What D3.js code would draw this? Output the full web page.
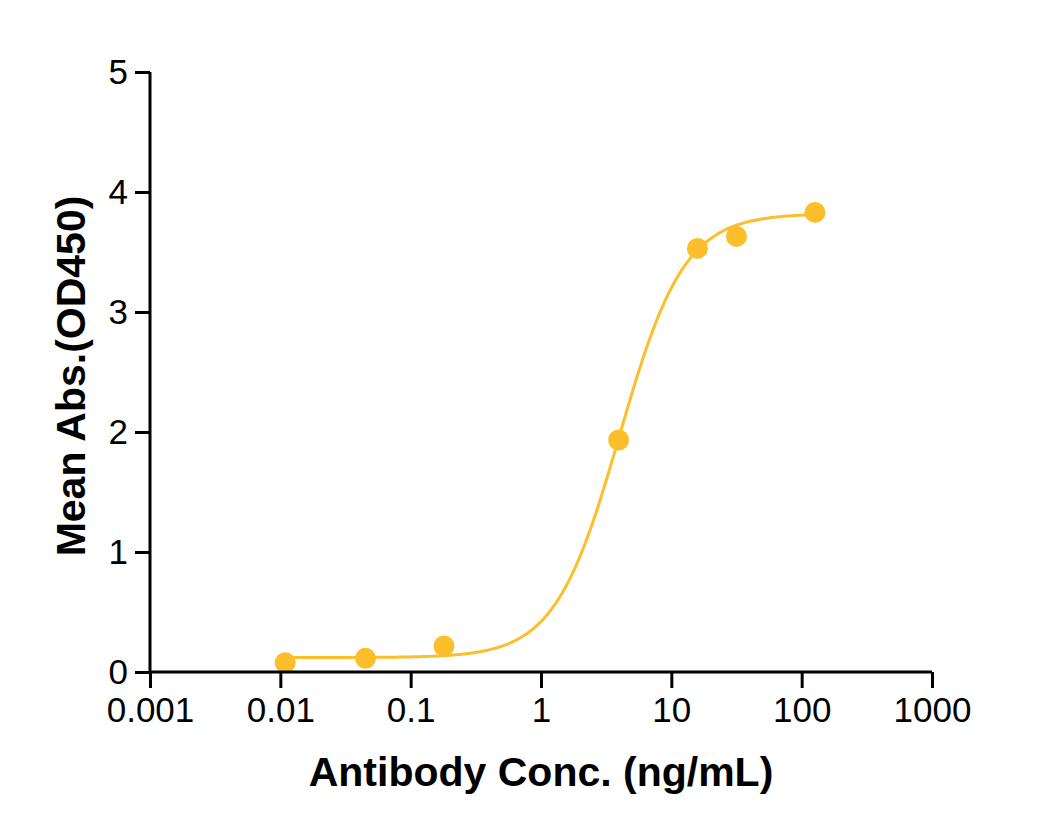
<!DOCTYPE html>
<html>
<head>
<meta charset="utf-8">
<script src="https://cdn.jsdelivr.net/npm/d3@7"></script>
<style>
  body { margin: 0; background: #fff; }
  svg text { font-family: "Liberation Sans", Arial, sans-serif; fill: #000; }
</style>
</head>
<body>
<div id="chart"></div>
<script>
var width = 1052;
var height = 837;
var margin = { top: 72, right: 120, bottom: 165, left: 150 };

// measured points
var conc = [0.0109, 0.045, 0.18, 3.94, 15.85, 31.6, 126.5];
var absorb = [0.078, 0.114, 0.217, 1.933, 3.53, 3.63, 3.83];

// 4PL fit
var fitBottom = 0.12;
var fitTop = 3.82;
var fitEC50 = 4.0;
var fitHill = 1.75;

var xTicks = [0.001, 0.01, 0.1, 1, 10, 100, 1000];
var xTickLabels = ["0.001", "0.01", "0.1", "1", "10", "100", "1000"];
var yTicks = [0, 1, 2, 3, 4, 5];

var color = "#FDBE2C";

var svg = d3.select("#chart").append("svg")
  .attr("width", width)
  .attr("height", height);

var x = d3.scaleLog()
  .domain([0.001, 1000])
  .range([margin.left, width - margin.right]);

var y = d3.scaleLinear()
  .domain([0, 5])
  .range([height - margin.bottom, margin.top]);

function fourPL(c) {
  return fitBottom + (fitTop - fitBottom) / (1 + Math.pow(fitEC50 / c, fitHill));
}

// curve spans the data range
var curveX = d3.range(200).map(i => {
  var lo = Math.log10(conc[0]), hi = Math.log10(conc[conc.length - 1]);
  return Math.pow(10, lo + (hi - lo) * i / 199);
});

var line = d3.line()
  .x(d => x(d))
  .y(d => y(fourPL(d)))
  .curve(d3.curveMonotoneX);

svg.append("path")
  .datum(curveX)
  .attr("fill", "none")
  .attr("stroke", color)
  .attr("stroke-width", 3)
  .attr("d", line);

svg.append("g")
  .selectAll("circle")
  .data(conc)
  .enter()
  .append("circle")
  .attr("cx", d => x(d))
  .attr("cy", (d, i) => y(absorb[i]))
  .attr("r", 10.5)
  .attr("fill", color);

// axes
var xAxis = svg.append("g")
  .attr("transform", "translate(0," + (height - margin.bottom) + ")")
  .call(d3.axisBottom(x)
    .tickValues(xTicks)
    .tickFormat((d, i) => xTickLabels[i])
    .tickSize(16)
    .tickPadding(9));

var yAxis = svg.append("g")
  .attr("transform", "translate(" + margin.left + ",0)")
  .call(d3.axisLeft(y)
    .tickValues(yTicks)
    .tickFormat(d3.format("d"))
    .tickSize(15)
    .tickPadding(7));

[xAxis, yAxis].forEach(g => {
  g.select(".domain").attr("stroke", "#000").attr("stroke-width", 3);
  g.selectAll(".tick line").attr("stroke", "#000").attr("stroke-width", 3);
  g.selectAll(".tick text")
    .attr("font-size", 35)
    .attr("fill", "#000")
    .style("font-family", "'Liberation Sans', Arial, sans-serif");
});
xAxis.select(".domain").attr("d", "M" + margin.left + ",0H" + (width - margin.right));
yAxis.select(".domain").attr("d", "M0," + (height - margin.bottom) + "V" + margin.top);

svg.append("text")
  .attr("x", (x(0.001) + x(1000)) / 2)
  .attr("y", 786)
  .attr("text-anchor", "middle")
  .attr("font-size", 41)
  .attr("font-weight", "bold")
  .text("Antibody Conc. (ng/mL)");

svg.append("text")
  .attr("transform", "translate(85," + ((y(0) + y(5)) / 2 + 4) + ") rotate(-90)")
  .attr("text-anchor", "middle")
  .attr("font-size", 41)
  .attr("font-weight", "bold")
  .text("Mean Abs.(OD450)");
</script>
</body>
</html>
